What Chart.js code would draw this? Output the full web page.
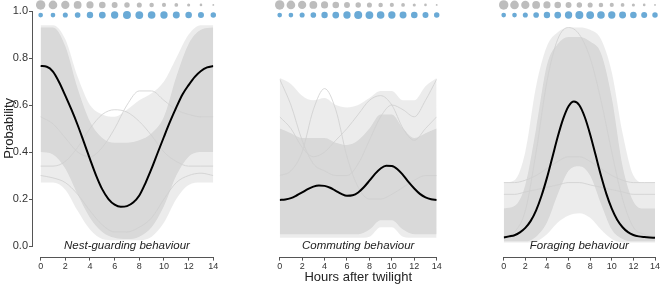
<!DOCTYPE html>
<html>
<head>
<meta charset="utf-8">
<script src="https://cdn.jsdelivr.net/npm/chart.js@4.4.1/dist/chart.umd.min.js"></script>
<style>
  body { margin: 0; background: #fff; }
  #wrap { position: relative; width: 660px; height: 285px; overflow: hidden; }
  canvas { position: absolute; top: 0; }
</style>
</head>
<body>
<div id="wrap">
  <canvas id="c1" width="222" height="285" style="left:0px"></canvas>
  <canvas id="c2" width="212" height="285" style="left:236px"></canvas>
  <canvas id="c3" width="200" height="285" style="left:460px"></canvas>
</div>
<script>
// hours after twilight
const hours = [0, 1, 2, 3, 4, 5, 6, 7, 8, 9, 10, 11, 12, 13, 14];
const halfHours = [0, 0.5, 1, 1.5, 2, 2.5, 3, 3.5, 4, 4.5, 5, 5.5, 6, 6.5, 7, 7.5, 8, 8.5, 9, 9.5, 10, 10.5, 11, 11.5, 12, 12.5, 13, 13.5, 14];
const xTicks = [0, 2, 4, 6, 8, 10, 12, 14];
const yTicks = [0, 0.2, 0.4, 0.6, 0.8, 1.0];
const panelLabels = ['Nest-guarding behaviour', 'Commuting behaviour', 'Foraging behaviour'];
const xTitle = 'Hours after twilight';
const yTitle = 'Probability';

// dot magnitudes per hour (top rows)
const greyDots = [10, 9.2, 8.8, 8.3, 7.6, 7.0, 6.3, 5.8, 5.4, 4.8, 4.4, 4.0, 3.3, 2.8, 2.0];
const blueDots = [5.0, 5.0, 5.4, 6.0, 6.8, 7.2, 7.8, 8.5, 8.3, 8.1, 7.8, 7.4, 7.0, 6.4, 5.8];

// mean curves (halfHours)
const nestMean = [0.766, 0.763, 0.742, 0.697, 0.640, 0.580, 0.515, 0.443, 0.370, 0.300, 0.241, 0.200, 0.176, 0.167, 0.170, 0.185, 0.215, 0.268, 0.330, 0.398, 0.465, 0.530, 0.590, 0.645, 0.685, 0.720, 0.745, 0.760, 0.766];
const commuteMean = [0.196, 0.198, 0.204, 0.215, 0.228, 0.242, 0.253, 0.258, 0.256, 0.248, 0.235, 0.222, 0.214, 0.216, 0.228, 0.250, 0.278, 0.307, 0.330, 0.342, 0.341, 0.327, 0.302, 0.272, 0.245, 0.222, 0.207, 0.199, 0.196];
const forageMean = [0.036, 0.041, 0.046, 0.058, 0.077, 0.107, 0.152, 0.214, 0.290, 0.377, 0.465, 0.541, 0.595, 0.615, 0.599, 0.549, 0.475, 0.388, 0.300, 0.222, 0.159, 0.112, 0.080, 0.059, 0.047, 0.041, 0.038, 0.036, 0.035];

// posterior draws envelopes (hours): dense core and sparse outer lines
const nestDenseHi = [0.93, 0.93, 0.85, 0.67, 0.53, 0.46, 0.44, 0.44, 0.45, 0.48, 0.55, 0.72, 0.86, 0.92, 0.93];
const nestDenseLo = [0.40, 0.39, 0.33, 0.22, 0.12, 0.06, 0.035, 0.03, 0.04, 0.08, 0.17, 0.30, 0.38, 0.40, 0.40];
const nestSparseHi = [0.94, 0.94, 0.88, 0.72, 0.60, 0.56, 0.55, 0.58, 0.62, 0.65, 0.70, 0.80, 0.90, 0.94, 0.94];
const nestSparseLo = [0.27, 0.27, 0.24, 0.15, 0.07, 0.03, 0.025, 0.025, 0.025, 0.04, 0.10, 0.20, 0.26, 0.27, 0.27];

const commuteDenseHi = [0.50, 0.48, 0.46, 0.46, 0.46, 0.44, 0.43, 0.45, 0.50, 0.56, 0.56, 0.50, 0.46, 0.48, 0.50];
const commuteDenseLo = [0.05, 0.05, 0.05, 0.05, 0.05, 0.05, 0.05, 0.05, 0.07, 0.11, 0.11, 0.07, 0.05, 0.05, 0.05];
const commuteSparseHi = [0.715, 0.69, 0.64, 0.62, 0.63, 0.60, 0.59, 0.60, 0.63, 0.66, 0.66, 0.62, 0.62, 0.68, 0.715];
const commuteSparseLo = [0.035, 0.035, 0.035, 0.035, 0.035, 0.035, 0.035, 0.035, 0.04, 0.08, 0.08, 0.04, 0.035, 0.035, 0.035];

const forageDenseHi = [0.16, 0.17, 0.26, 0.50, 0.77, 0.86, 0.89, 0.89, 0.87, 0.82, 0.63, 0.34, 0.19, 0.16, 0.16];
const forageDenseLo = [0.02, 0.02, 0.02, 0.04, 0.10, 0.22, 0.32, 0.34, 0.30, 0.18, 0.07, 0.03, 0.02, 0.02, 0.02];
const forageSparseHi = [0.27, 0.28, 0.40, 0.68, 0.85, 0.91, 0.93, 0.93, 0.92, 0.88, 0.74, 0.48, 0.30, 0.27, 0.27];
const forageSparseLo = [0.015, 0.015, 0.015, 0.02, 0.05, 0.10, 0.13, 0.14, 0.12, 0.07, 0.03, 0.015, 0.015, 0.015, 0.015];

// a few single draws that stand out of the band
const nestDraws = [
  [0.30, 0.29, 0.27, 0.22, 0.15, 0.09, 0.06, 0.06, 0.08, 0.12, 0.20, 0.27, 0.30, 0.31, 0.30],
  [0.34, 0.34, 0.36, 0.42, 0.50, 0.56, 0.58, 0.57, 0.53, 0.47, 0.40, 0.36, 0.34, 0.34, 0.34],
  [0.55, 0.52, 0.46, 0.40, 0.38, 0.42, 0.50, 0.60, 0.66, 0.66, 0.62, 0.58, 0.56, 0.55, 0.55]
];
const commuteDraws = [
  [0.30, 0.32, 0.40, 0.58, 0.67, 0.58, 0.38, 0.25, 0.20, 0.20, 0.22, 0.25, 0.28, 0.30, 0.30],
  [0.71, 0.60, 0.45, 0.35, 0.32, 0.30, 0.30, 0.35, 0.45, 0.55, 0.60, 0.58, 0.55, 0.62, 0.71],
  [0.55, 0.50, 0.42, 0.38, 0.40, 0.45, 0.50, 0.56, 0.62, 0.64, 0.60, 0.50, 0.45, 0.50, 0.55]
];
const forageDraws = [
  [0.27, 0.27, 0.28, 0.30, 0.33, 0.36, 0.38, 0.38, 0.36, 0.33, 0.30, 0.28, 0.27, 0.27, 0.27],
  [0.04, 0.06, 0.15, 0.40, 0.70, 0.88, 0.93, 0.90, 0.80, 0.62, 0.40, 0.20, 0.08, 0.05, 0.04],
  [0.22, 0.22, 0.23, 0.24, 0.25, 0.26, 0.27, 0.27, 0.26, 0.25, 0.24, 0.23, 0.22, 0.22, 0.22]
];

const GREY_ROW = 1.026;
const BLUE_ROW = 0.983;
const DOT_SCALE = 0.47;
const BAND = '#d9d9d9';
const BAND_LIGHT = 'rgba(217,217,217,0.5)';
const AXIS = '#555';
const FONT = '"Liberation Sans", Arial, Helvetica, sans-serif';

Chart.defaults.font.family = FONT;
Chart.defaults.color = '#333';

function pts(xs, ys) {
  return xs.map((x, i) => ({ x: x, y: ys[i] }));
}

function bandSets(hi, lo, color, order) {
  const base = { borderWidth: 0, borderColor: 'transparent', pointRadius: 0, cubicInterpolationMode: 'monotone', order: order };
  return [
    Object.assign({ data: pts(hours, hi), fill: '+1', backgroundColor: color }, base),
    Object.assign({ data: pts(hours, lo), fill: false }, base)
  ];
}

// axis lines from first to last tick, plus panel label
const panelDecor = {
  id: 'panelDecor',
  afterDraw(chart, args, opts) {
    const { ctx, chartArea, scales } = chart;
    const x = scales.x, y = scales.y;
    ctx.save();
    ctx.strokeStyle = AXIS;
    ctx.lineWidth = 1;
    ctx.beginPath();
    const yb = Math.round(chartArea.bottom) + 0.5;
    ctx.moveTo(x.getPixelForValue(0), yb);
    ctx.lineTo(x.getPixelForValue(14), yb);
    if (opts.yAxis) {
      const xl = Math.round(chartArea.left) - 0.5;
      ctx.moveTo(xl, y.getPixelForValue(0));
      ctx.lineTo(xl, y.getPixelForValue(1));
    }
    ctx.stroke();
    ctx.font = 'italic 11.5px ' + FONT;
    ctx.fillStyle = '#222';
    ctx.textAlign = 'center';
    ctx.textBaseline = 'middle';
    ctx.fillText(opts.label, x.getPixelForValue(7), y.getPixelForValue(0));
    ctx.restore();
  }
};

function makePanel(id, p) {
  const datasets = [];
  datasets.push({ data: pts(halfHours, p.mean), borderColor: '#000', borderWidth: 2, pointRadius: 0, cubicInterpolationMode: 'monotone', fill: false, order: 0 });
  datasets.push({ data: hours.map(h => ({ x: h, y: GREY_ROW })), showLine: false, pointRadius: greyDots.map(v => v * DOT_SCALE), pointBackgroundColor: '#bdbdbd', pointBorderWidth: 0, clip: false, order: 0 });
  datasets.push({ data: hours.map(h => ({ x: h, y: BLUE_ROW })), showLine: false, pointRadius: blueDots.map(v => v * DOT_SCALE), pointBackgroundColor: '#6aaad6', pointBorderWidth: 0, clip: false, order: 0 });
  p.draws.forEach(d => {
    datasets.push({ data: pts(hours, d), borderColor: '#cfcfcf', borderWidth: 0.8, pointRadius: 0, cubicInterpolationMode: 'monotone', fill: false, order: 2 });
  });
  datasets.push(...bandSets(p.denseHi, p.denseLo, BAND, 3));
  datasets.push(...bandSets(p.sparseHi, p.sparseLo, BAND_LIGHT, 4));

  return new Chart(document.getElementById(id), {
    type: 'line',
    data: { datasets: datasets },
    options: {
      responsive: false,
      animation: false,
      devicePixelRatio: 1,
      events: [],
      layout: { autoPadding: false, padding: { left: p.padLeft, right: p.padRight, top: 0, bottom: 0 } },
      plugins: {
        legend: { display: false },
        tooltip: { enabled: false },
        panelDecor: { label: p.label, yAxis: p.yAxis }
      },
      scales: {
        x: {
          type: 'linear',
          min: p.xMin,
          max: 14,
          afterBuildTicks: s => { s.ticks = xTicks.map(v => ({ value: v })); },
          afterFit: s => { s.height = 28.4; s.paddingLeft = 0; s.paddingRight = 0; },
          border: { display: false },
          grid: { drawOnChartArea: false, drawTicks: true, tickLength: 4, color: AXIS },
          ticks: { font: { size: 9 }, padding: 1, maxRotation: 0, autoSkip: false, color: '#333', callback: v => String(v) },
          title: { display: p.xTitle, text: xTitle, font: { size: 13 }, color: '#222', padding: { top: 0, bottom: 0 } }
        },
        y: {
          display: p.yAxis,
          min: -0.045,
          max: 1.047,
          afterBuildTicks: s => { s.ticks = yTicks.map(v => ({ value: v })); },
          afterFit: s => { s.width = 33; s.paddingTop = 0; s.paddingBottom = 0; },
          border: { display: false },
          grid: { drawOnChartArea: false, drawTicks: true, tickLength: 4, color: AXIS },
          ticks: { font: { size: 11 }, padding: 1, color: '#333', callback: v => v.toFixed(1) },
          title: { display: true, text: yTitle, font: { size: 13 }, color: '#222', padding: { top: 2, bottom: 0 } }
        }
      }
    },
    plugins: [panelDecor]
  });
}

makePanel('c1', { mean: nestMean, denseHi: nestDenseHi, denseLo: nestDenseLo, sparseHi: nestSparseHi, sparseLo: nestSparseLo, draws: nestDraws, label: panelLabels[0], yAxis: true, xTitle: false, xMin: -0.62, padLeft: 0, padRight: 8.7 });
makePanel('c2', { mean: commuteMean, denseHi: commuteDenseHi, denseLo: commuteDenseLo, sparseHi: commuteSparseHi, sparseLo: commuteSparseLo, draws: commuteDraws, label: panelLabels[1], yAxis: false, xTitle: true, xMin: 0, padLeft: 10.7, padRight: 11.3 });
makePanel('c3', { mean: forageMean, denseHi: forageDenseHi, denseLo: forageDenseLo, sparseHi: forageSparseHi, sparseLo: forageSparseLo, draws: forageDraws, label: panelLabels[2], yAxis: false, xTitle: false, xMin: 0, padLeft: 10.7, padRight: 5 });
</script>
</body>
</html>
